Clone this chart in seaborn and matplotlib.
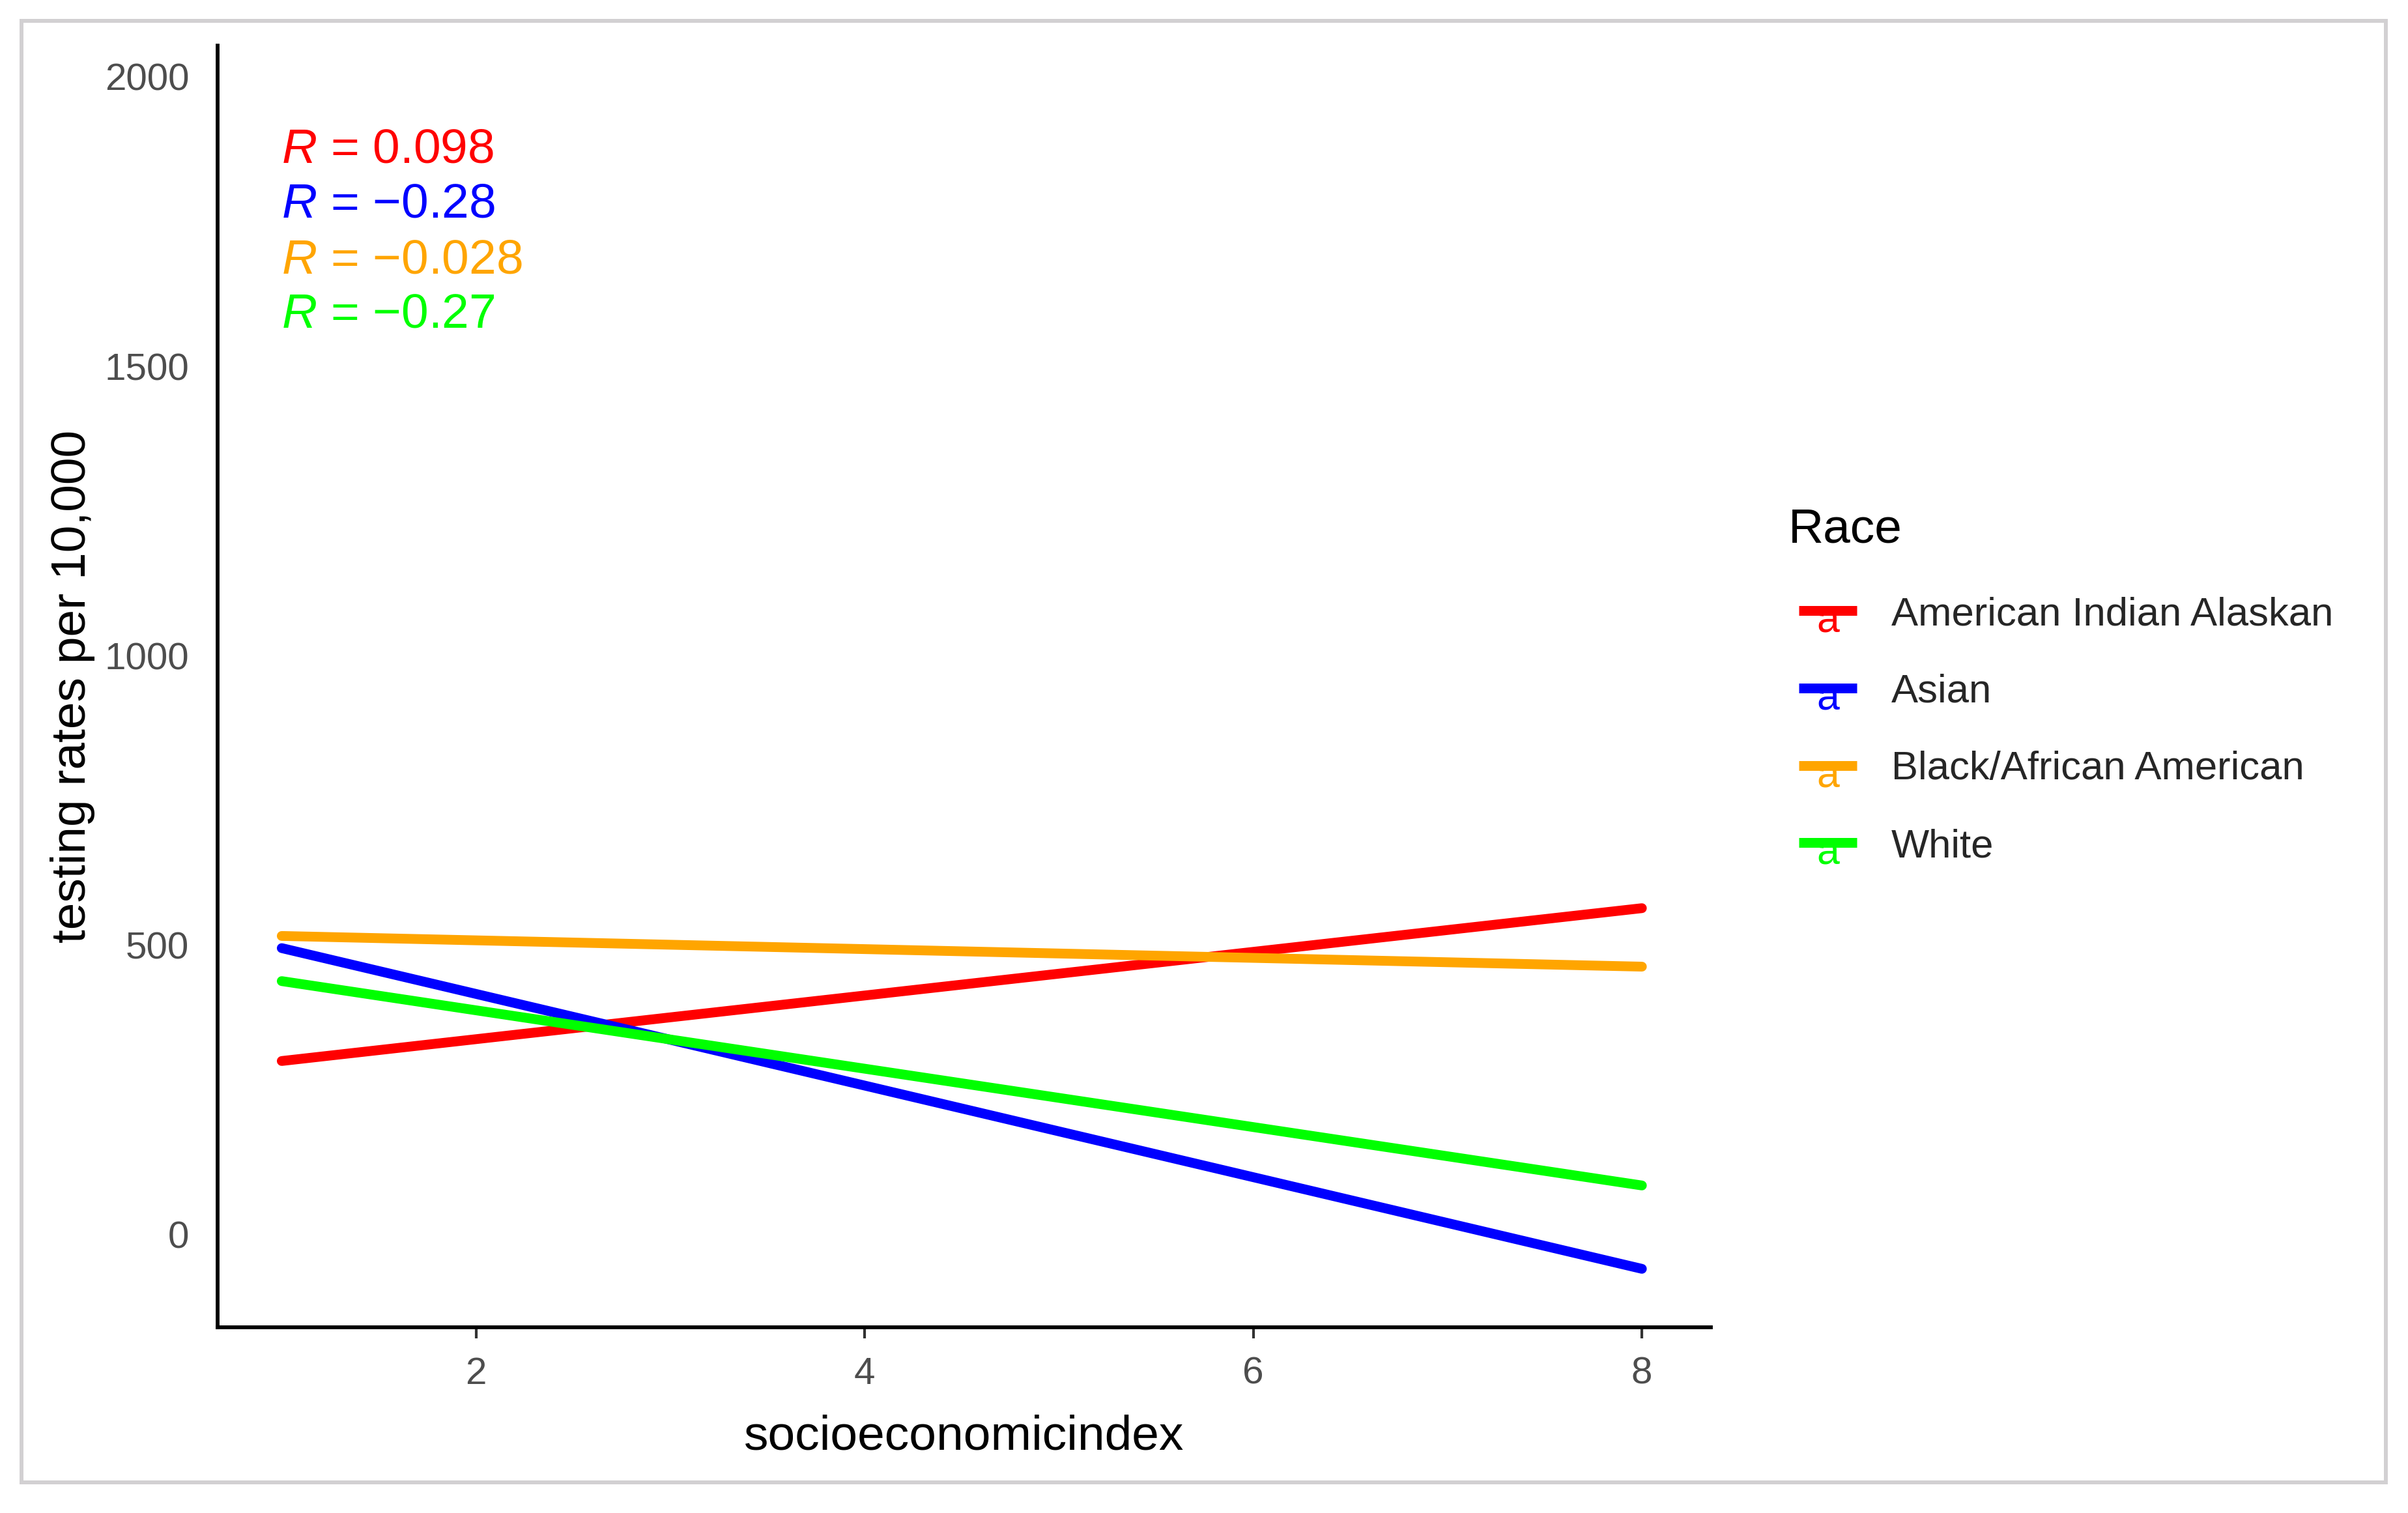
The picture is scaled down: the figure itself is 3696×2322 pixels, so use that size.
import matplotlib
matplotlib.use("Agg")
import matplotlib.pyplot as plt
import pandas as pd
import seaborn as sns
from matplotlib.lines import Line2D
from matplotlib.text import Text
from matplotlib.patches import Rectangle
from matplotlib.legend_handler import HandlerBase

# fitted lines at the ends of the x range
sei = [1, 8]
american_indian = [300, 564]
asian = [495, -59]
black = [516, 463]
white = [438, 85]

races = ["American Indian Alaskan", "Asian", "Black/African American", "White"]
colors = ["#FF0000", "#0000FF", "#FFA500", "#00FF00"]
r_labels = ["0.098", "\u22120.28", "\u22120.028", "\u22120.27"]

x_ticks = [2, 4, 6, 8]
y_ticks = [0, 500, 1000, 1500, 2000]

rows = []
for race, vals in zip(races, [american_indian, asian, black, white]):
    for x, y in zip(sei, vals):
        rows.append({"socioeconomicindex": x, "rate": y, "Race": race})
df = pd.DataFrame(rows)

sns.set_theme(style="white")
plt.rcParams["font.family"] = ["Liberation Sans", "DejaVu Sans"]
plt.rcParams["mathtext.fontset"] = "custom"
plt.rcParams["mathtext.it"] = "Liberation Sans:italic"
plt.rcParams["mathtext.rm"] = "Liberation Sans"

W, H = 3696, 2322
fig = plt.figure(figsize=(W / 300, H / 300), dpi=300)
ax = fig.add_axes([334 / W, 1 - 2037 / H, (2626 - 334) / W, (2037 - 70) / H])

sns.lineplot(data=df, x="socioeconomicindex", y="rate", hue="Race",
             palette=dict(zip(races, colors)), linewidth=3.6, ax=ax, legend=False)

ax.set_xlim(0.67, 8.355)
ax.set_ylim(-160, 2054)
ax.set_xticks(x_ticks)
ax.set_yticks(y_ticks)

ax.set_xlabel("socioeconomicindex", fontsize=18, color="black")
ax.set_ylabel("testing rates per 10,000", fontsize=18, color="black")
ax.xaxis.set_label_coords(0.5, -0.068)
ax.yaxis.set_label_coords(-0.082, 0.5)

ax.tick_params(axis="x", length=4, width=1, color="#333333", labelsize=14,
               labelcolor="#4D4D4D", pad=6.8, bottom=True)
ax.tick_params(axis="y", length=0, labelsize=14, labelcolor="#4D4D4D", pad=10.5)

for side in ["top", "right"]:
    ax.spines[side].set_visible(False)
for side in ["left", "bottom"]:
    ax.spines[side].set_color("black")
    ax.spines[side].set_linewidth(1.4)
ax.grid(False)

# correlation labels
label_y = [1874, 1779, 1683, 1589]
for lab, col, yy in zip(r_labels, colors, label_y):
    ax.text(1, yy, r"$\mathit{R}$ = " + lab, color=col, fontsize=18,
            ha="left", va="center")


class LineWithA(HandlerBase):
    def create_artists(self, legend, orig_handle, xdescent, ydescent,
                       width, height, fontsize, trans):
        y = height / 2 - ydescent
        x0, x1 = -xdescent, width - xdescent
        col = orig_handle.get_color()
        a = Text((x0 + x1) / 2, y - 8, "a", color=col, fontsize=15,
                 ha="center", va="baseline", transform=trans)
        line = Line2D([x0, x1], [y, y], color=col, lw=3.6, transform=trans,
                      solid_capstyle="butt")
        return [a, line]


# legend title placed on its own, keys are indented in the reference
fig.text(2745 / W, 1 - 813 / H, "Race", fontsize=18, ha="left", va="center",
         color="black")

handles = [Line2D([], [], color=c, lw=3.6) for c in colors]
leg = fig.legend(handles, races, loc="upper left",
                 bbox_to_anchor=(2761 / W, 1 - 915 / H), frameon=False,
                 fontsize=14.8, handlelength=1.45,
                 handletextpad=0.85, labelspacing=1.0, borderpad=0,
                 borderaxespad=0, handler_map={Line2D: LineWithA()})

fig.patches.append(Rectangle((32.5 / W, 1 - 2275 / H),
                             (3662 - 32.5) / W, (2275 - 32) / H,
                             transform=fig.transFigure, fill=False,
                             edgecolor="#D2D0D2", linewidth=1.44))

fig.savefig("out.png", dpi=300, facecolor="white")
